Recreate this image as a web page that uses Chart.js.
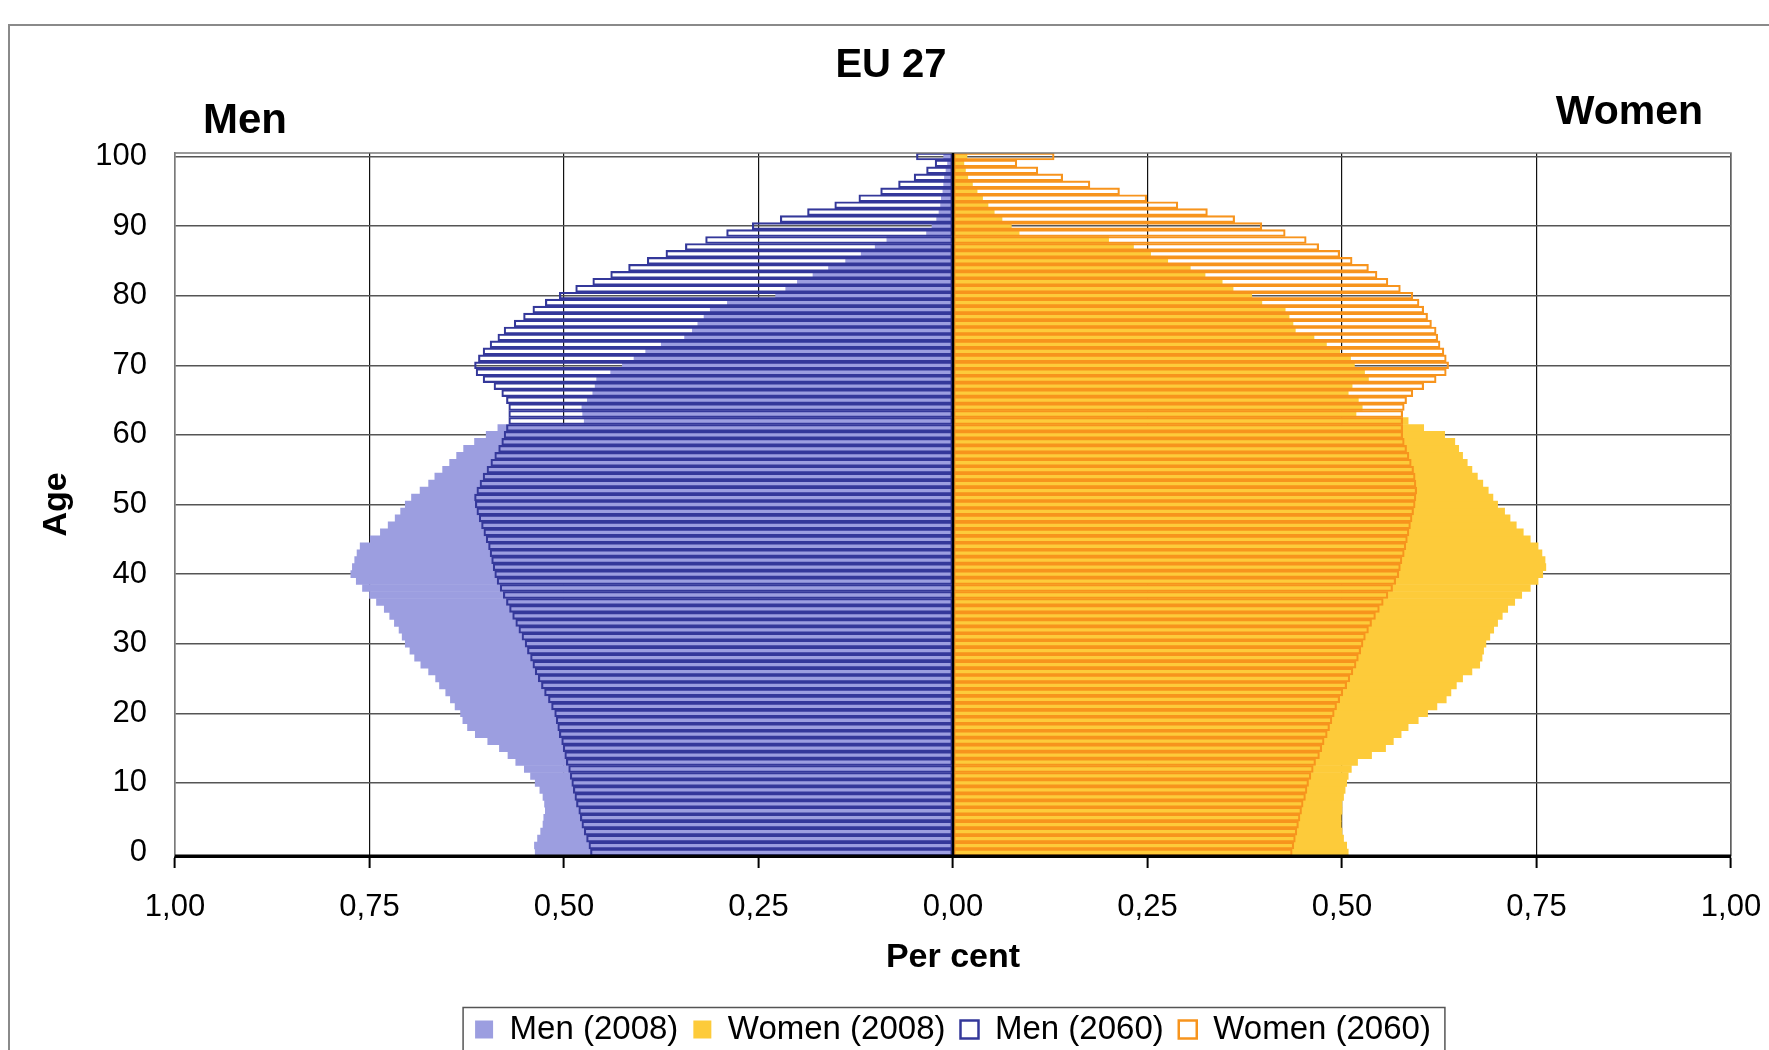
<!DOCTYPE html>
<html>
<head>
<meta charset="utf-8">
<script src="https://cdn.jsdelivr.net/npm/chart.js@4.4.1/dist/chart.umd.min.js"></script>
<style>
  html, body { margin: 0; padding: 0; background: #fff; overflow: hidden; }
  #pyramid { display: block; }
</style>
</head>
<body>
<canvas id="pyramid" width="1769" height="1056"></canvas>
<script>
// ── Data (share of total population, per cent), ages 0..100 ──────────
const AGES = Array.from({ length: 101 }, (_, i) => i);
const Y_TICKS = [0, 10, 20, 30, 40, 50, 60, 70, 80, 90, 100];

const MEN_2008 = [
  0.537, 0.538, 0.534, 0.530, 0.527, 0.526, 0.524, 0.525, 0.527, 0.531,
  0.537, 0.543, 0.551, 0.562, 0.572, 0.583, 0.598, 0.614, 0.624, 0.630,
  0.633, 0.640, 0.646, 0.652, 0.660, 0.665, 0.674, 0.684, 0.692, 0.698,
  0.704, 0.708, 0.712, 0.718, 0.724, 0.731, 0.741, 0.750, 0.759, 0.767,
  0.774, 0.772, 0.769, 0.766, 0.762, 0.749, 0.736, 0.726, 0.717, 0.710,
  0.704, 0.696, 0.685, 0.674, 0.666, 0.656, 0.647, 0.638, 0.629, 0.615,
  0.600, 0.585, 0.474, 0.476, 0.477, 0.470, 0.463, 0.460, 0.458, 0.440,
  0.425, 0.410, 0.395, 0.375, 0.345, 0.335, 0.328, 0.320, 0.312, 0.290,
  0.228, 0.215, 0.200, 0.180, 0.160, 0.138, 0.118, 0.100, 0.085, 0.034,
  0.027, 0.021, 0.018, 0.016, 0.015, 0.013, 0.012, 0.011, 0.009, 0.007,
  0.012
];

const WOMEN_2008 = [
  0.508, 0.506, 0.502, 0.500, 0.499, 0.499, 0.500, 0.500, 0.502, 0.504,
  0.506, 0.508, 0.512, 0.520, 0.538, 0.556, 0.566, 0.576, 0.585, 0.598,
  0.610, 0.622, 0.634, 0.640, 0.647, 0.655, 0.667, 0.677, 0.680, 0.682,
  0.685, 0.690, 0.695, 0.700, 0.706, 0.713, 0.722, 0.731, 0.742, 0.752,
  0.758, 0.762, 0.761, 0.757, 0.752, 0.742, 0.733, 0.724, 0.716, 0.709,
  0.700, 0.694, 0.688, 0.681, 0.674, 0.667, 0.661, 0.655, 0.650, 0.645,
  0.632, 0.605, 0.585, 0.518, 0.526, 0.521, 0.508, 0.513, 0.534, 0.529,
  0.516, 0.511, 0.497, 0.480, 0.464, 0.440, 0.437, 0.432, 0.427, 0.397,
  0.384, 0.360, 0.346, 0.324, 0.305, 0.276, 0.254, 0.232, 0.200, 0.085,
  0.075, 0.063, 0.053, 0.045, 0.038, 0.031, 0.025, 0.019, 0.016, 0.014,
  0.018
];

const MEN_2060 = [
  0.466, 0.468, 0.471, 0.474, 0.477, 0.479, 0.481, 0.484, 0.486, 0.488,
  0.490, 0.492, 0.494, 0.497, 0.499, 0.501, 0.503, 0.506, 0.508, 0.510,
  0.512, 0.516, 0.520, 0.525, 0.529, 0.533, 0.537, 0.540, 0.543, 0.547,
  0.550, 0.554, 0.558, 0.562, 0.566, 0.570, 0.574, 0.578, 0.582, 0.586,
  0.589, 0.591, 0.593, 0.595, 0.597, 0.600, 0.603, 0.606, 0.609, 0.612,
  0.614, 0.615, 0.612, 0.608, 0.604, 0.599, 0.594, 0.589, 0.584, 0.580,
  0.577, 0.574, 0.571, 0.571, 0.571, 0.574, 0.580, 0.590, 0.604, 0.613,
  0.615, 0.610, 0.604, 0.595, 0.585, 0.577, 0.564, 0.552, 0.540, 0.524,
  0.506, 0.485, 0.463, 0.440, 0.417, 0.393, 0.369, 0.344, 0.318, 0.291,
  0.258, 0.222, 0.187, 0.152, 0.121, 0.093, 0.070, 0.050, 0.034, 0.023,
  0.047
];

const WOMEN_2060 = [
  0.436, 0.438, 0.440, 0.442, 0.444, 0.446, 0.448, 0.450, 0.453, 0.455,
  0.457, 0.460, 0.463, 0.466, 0.471, 0.474, 0.477, 0.481, 0.484, 0.487,
  0.490, 0.493, 0.497, 0.501, 0.506, 0.510, 0.514, 0.518, 0.521, 0.524,
  0.527, 0.530, 0.534, 0.538, 0.543, 0.548, 0.553, 0.559, 0.565, 0.569,
  0.573, 0.575, 0.577, 0.580, 0.582, 0.584, 0.586, 0.588, 0.590, 0.592,
  0.594, 0.595, 0.596, 0.595, 0.594, 0.592, 0.589, 0.586, 0.583, 0.580,
  0.578, 0.578, 0.578, 0.578, 0.580, 0.583, 0.591, 0.605, 0.621, 0.634,
  0.637, 0.634, 0.631, 0.626, 0.623, 0.621, 0.615, 0.610, 0.605, 0.599,
  0.591, 0.575, 0.559, 0.545, 0.534, 0.513, 0.497, 0.470, 0.454, 0.427,
  0.397, 0.362, 0.327, 0.289, 0.249, 0.214, 0.176, 0.141, 0.109, 0.082,
  0.130
];

// ── Look ─────────────────────────────────────────────────────────────
const FONT = "'Liberation Sans', Arial, sans-serif";
const MEN_FILL = '#9c9ee0';
const MEN_LINE = '#34389a';
const WOMEN_FILL = '#fdcb3a';
const WOMEN_LINE = '#f7941d';

// men to the left (negative), women to the right
const toBars = (values, sign) => values.map((v, i) => ({ x: sign * v, y: AGES[i] }));

// Extra drawing: outer frame, plot frame, centre axis, headings, legend box
const decorations = {
    id: 'decorations',
    beforeDraw(chart) {
        const { ctx, width, height } = chart;
        ctx.save();
        ctx.fillStyle = '#fff';
        ctx.fillRect(0, 0, width, height);
        ctx.strokeStyle = '#8a8a8a';
        ctx.lineWidth = 2;
        ctx.beginPath();
        ctx.moveTo(9, height);
        ctx.lineTo(9, 25);
        ctx.lineTo(width, 25);
        ctx.stroke();
        ctx.restore();
    },
    afterDatasetsDraw(chart) {
        const { ctx, chartArea: a, scales: { x } } = chart;
        ctx.save();
        ctx.strokeStyle = '#7a7a7a';
        ctx.lineWidth = 1.5;
        ctx.beginPath();
        ctx.moveTo(a.left, a.top);
        ctx.lineTo(a.right, a.top);
        ctx.lineTo(a.right, a.bottom);
        ctx.stroke();

        ctx.strokeStyle = '#000';
        ctx.lineWidth = 2.5;
        const x0 = x.getPixelForValue(0);
        ctx.beginPath();
        ctx.moveTo(x0, a.top);
        ctx.lineTo(x0, a.bottom);
        ctx.stroke();

        ctx.lineWidth = 3;
        ctx.beginPath();
        ctx.moveTo(a.left, a.bottom);
        ctx.lineTo(a.right, a.bottom);
        ctx.stroke();
        ctx.restore();
    },
    afterDraw(chart) {
        const { ctx } = chart;
        ctx.save();
        ctx.fillStyle = '#000';
        ctx.textBaseline = 'middle';
        ctx.font = `bold 40px ${FONT}`;
        ctx.textAlign = 'center';
        ctx.fillText('EU 27', 891, 66);
        ctx.font = `bold 42px ${FONT}`;
        ctx.textAlign = 'left';
        ctx.fillText('Men', 203, 121);
        ctx.font = `bold 41px ${FONT}`;
        ctx.textAlign = 'right';
        ctx.fillText('Women', 1703, 113);

        // box round the legend
        const boxes = chart.legend.legendHitBoxes;
        if (boxes && boxes.length) {
            const first = boxes[0];
            const last = boxes[boxes.length - 1];
            const mid = first.top + first.height / 2;
            ctx.strokeStyle = '#555';
            ctx.lineWidth = 1.5;
            ctx.strokeRect(first.left - 12, mid - 22, last.left + last.width + 26 - first.left, 200);
        }
        ctx.restore();
    }
};

const barDefaults = {
    grouped: false,
    barPercentage: 1,
    categoryPercentage: 1,
    borderSkipped: false
};

new Chart(document.getElementById('pyramid'), {
    type: 'bar',
    data: {
        datasets: [
            {
                ...barDefaults,
                label: 'Men (2008)',
                data: toBars(MEN_2008, -1),
                backgroundColor: MEN_FILL,
                borderWidth: 0,
                order: 2
            },
            {
                ...barDefaults,
                label: 'Women (2008)',
                data: toBars(WOMEN_2008, 1),
                backgroundColor: WOMEN_FILL,
                borderWidth: 0,
                order: 2
            },
            {
                ...barDefaults,
                label: 'Men (2060)',
                data: toBars(MEN_2060, -1),
                backgroundColor: 'rgba(255,255,255,0)',
                borderColor: MEN_LINE,
                borderWidth: 1.5,
                order: 1
            },
            {
                ...barDefaults,
                label: 'Women (2060)',
                data: toBars(WOMEN_2060, 1),
                backgroundColor: 'rgba(255,255,255,0)',
                borderColor: WOMEN_LINE,
                borderWidth: 1.5,
                order: 1
            }
        ]
    },
    options: {
        indexAxis: 'y',
        responsive: false,
        animation: false,
        events: [],
        layout: { padding: { left: 0, right: 38, top: 153, bottom: 0 } },
        scales: {
            x: {
                type: 'linear',
                min: -1,
                max: 1,
                ticks: {
                    stepSize: 0.25,
                    color: '#000',
                    font: { family: FONT, size: 31 },
                    padding: 21,
                    maxRotation: 0,
                    callback: (v) => Math.abs(v).toFixed(2).replace('.', ',')
                },
                grid: {
                    color: '#111',
                    lineWidth: 1.2,
                    tickLength: 12,
                    tickColor: '#000',
                    tickWidth: 2
                },
                border: { display: true, color: '#000', width: 3 },
                title: {
                    display: true,
                    text: 'Per cent',
                    color: '#000',
                    font: { family: FONT, size: 34, weight: 'bold' },
                    padding: { top: 0, bottom: 20 }
                },
                afterFit: (scale) => {
                    scale.height = 142;
                    // end labels may run past the plot edge, as in the original
                    scale.paddingLeft = 0;
                    scale.paddingRight = 0;
                }
            },
            y: {
                type: 'linear',
                min: -0.5,
                max: 100.5,
                offset: false,
                afterBuildTicks: (scale) => { scale.ticks = Y_TICKS.map((v) => ({ value: v })); },
                ticks: {
                    color: '#000',
                    font: { family: FONT, size: 31 },
                    padding: 28,
                    callback: (v) => String(v)
                },
                grid: {
                    offset: false,
                    color: (c) => (c.tick && c.tick.value === 0 ? 'rgba(0,0,0,0)' : '#555'),
                    lineWidth: 1.5,
                    drawTicks: false
                },
                border: { display: true, color: '#7a7a7a', width: 1.5 },
                title: {
                    display: true,
                    text: 'Age',
                    color: '#000',
                    font: { family: FONT, size: 34, weight: 'bold' },
                    padding: { top: 36, bottom: 0 }
                },
                afterFit: (scale) => { scale.width = 175; }
            }
        },
        plugins: {
            title: { display: false },
            legend: {
                display: true,
                position: 'bottom',
                fullSize: false,
                labels: {
                    color: '#000',
                    font: { family: FONT, size: 33 },
                    boxWidth: 18,
                    boxHeight: 18,
                    padding: 15,
                    generateLabels(chart) {
                        const items = Chart.defaults.plugins.legend.labels.generateLabels(chart);
                        items.forEach((it) => { if (it.lineWidth) it.lineWidth = 2.5; });
                        return items.sort((a, b) => a.datasetIndex - b.datasetIndex);
                    }
                }
            },
            tooltip: { enabled: false }
        }
    },
    plugins: [decorations]
});
</script>
</body>
</html>
